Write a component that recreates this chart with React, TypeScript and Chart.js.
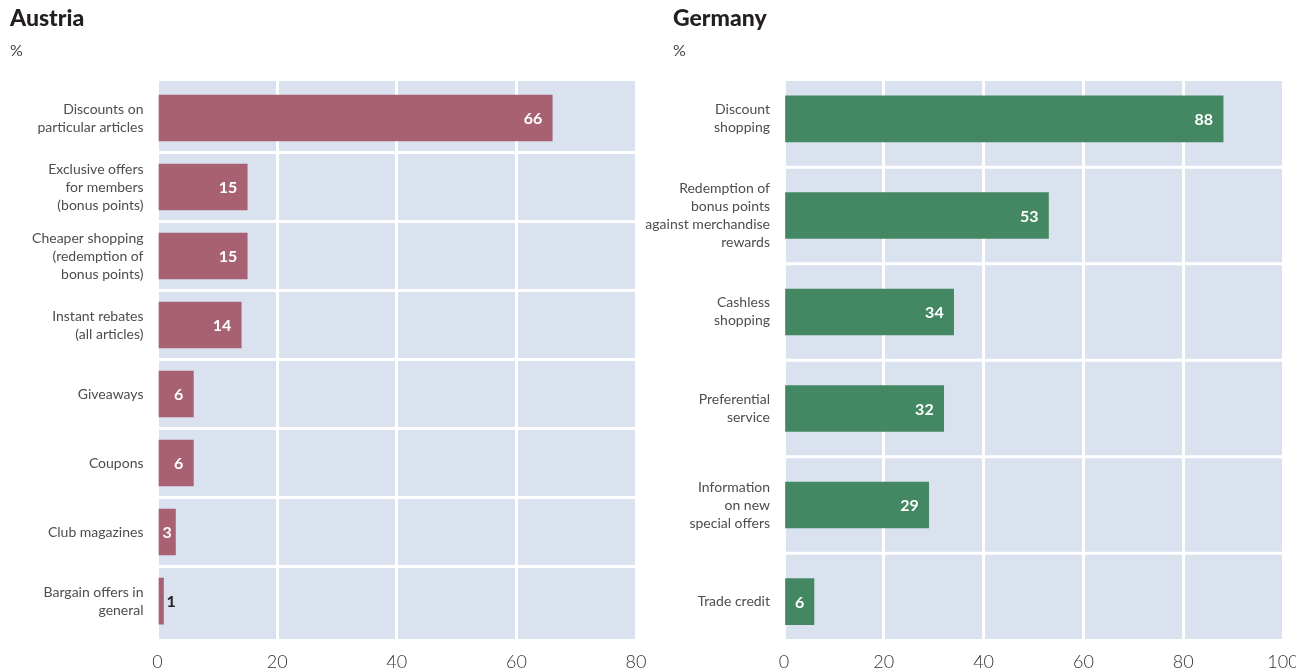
import React, { useEffect, useRef } from "react";
import { Chart, registerables } from "chart.js";

Chart.register(...registerables);

// ---- Data ----
const AT_LABELS: string[][] = [
  ["Discounts on", "particular articles"],
  ["Exclusive offers", "for members", "(bonus points)"],
  ["Cheaper shopping", "(redemption of", "bonus points)"],
  ["Instant rebates", "(all articles)"],
  ["Giveaways"],
  ["Coupons"],
  ["Club magazines"],
  ["Bargain offers in", "general"],
];
const AT_VALUES: number[] = [66, 15, 15, 14, 6, 6, 3, 1];

const DE_LABELS: string[][] = [
  ["Discount", "shopping"],
  ["Redemption of", "bonus points", "against merchandise", "rewards"],
  ["Cashless", "shopping"],
  ["Preferential", "service"],
  ["Information", "on new", "special offers"],
  ["Trade credit"],
];
const DE_VALUES: number[] = [88, 53, 34, 32, 29, 6];

const AT_X_TICKS = { max: 80, step: 20 };
const DE_X_TICKS = { max: 100, step: 20 };

const FONT = "Lato, 'Open Sans', sans-serif";
const BG = "#d9e2ee";

const bgPlugin = {
  id: "bgPlugin",
  beforeDraw(chart: any) {
    const { ctx, chartArea } = chart;
    if (!chartArea) return;
    ctx.save();
    ctx.fillStyle = BG;
    ctx.fillRect(chartArea.left, chartArea.top, chartArea.right - chartArea.left, chartArea.bottom - chartArea.top);
    ctx.restore();
  },
  beforeDatasetsDraw(chart: any) {
    const { ctx, chartArea } = chart;
    const y = chart.scales.y;
    const n = chart.data.datasets[0].data.length;
    ctx.save();
    ctx.strokeStyle = "#ffffff";
    ctx.lineWidth = 3;
    for (let i = 0; i < n - 1; i++) {
      const py = y.getPixelForValue(i + 0.5);
      ctx.beginPath();
      ctx.moveTo(chartArea.left, py);
      ctx.lineTo(chartArea.right, py);
      ctx.stroke();
    }
    ctx.restore();
  },
};

const valuePlugin = {
  id: "valuePlugin",
  afterDatasetsDraw(chart: any) {
    const { ctx } = chart;
    const meta = chart.getDatasetMeta(0);
    const values = chart.data.datasets[0].data;
    ctx.save();
    ctx.font = `bold 16px ${FONT}`;
    ctx.textBaseline = "middle";
    meta.data.forEach((bar: any, i: number) => {
      const v = values[i].x;
      const txt = String(v);
      const tw = ctx.measureText(txt).width;
      const w = Math.abs(bar.x - bar.base);
      const pad = 10;
      if (w >= tw + 2 * pad + 4) {
        ctx.fillStyle = "#ffffff";
        ctx.textAlign = "right";
        ctx.fillText(txt, bar.x - pad, bar.y + 1);
      } else if (w >= tw + 4) {
        ctx.fillStyle = "#ffffff";
        ctx.textAlign = "center";
        ctx.fillText(txt, (bar.x + bar.base) / 2, bar.y + 1);
      } else {
        ctx.fillStyle = "#222222";
        ctx.textAlign = "left";
        ctx.fillText(txt, bar.x + 3, bar.y + 1);
      }
    });
    ctx.restore();
  },
};

type PanelProps = {
  labels: string[][];
  values: number[];
  color: string;
  xMax: number;
  xStep: number;
  yMin: number;
  yMax: number;
  yAxisWidth: number;
  padRight: number;
  width: number;
};

function Panel(props: PanelProps) {
  const ref = useRef<HTMLCanvasElement | null>(null);
  useEffect(() => {
    if (!ref.current) return;
    const { labels, values, color, xMax, xStep, yMin, yMax, yAxisWidth, padRight } = props;
    const chart = new Chart(ref.current, {
      type: "bar",
      data: {
        datasets: [
          {
            data: values.map((v, i) => ({ x: v, y: i })) as any,
            backgroundColor: color,
            borderWidth: 0,
            barThickness: 46,
          },
        ],
      },
      options: {
        indexAxis: "y",
        responsive: false,
        animation: false,
        layout: { autoPadding: false, padding: { top: 81, right: padRight, bottom: 0, left: 0 } } as any,
        plugins: {
          legend: { display: false },
          tooltip: { enabled: false },
          title: { display: false },
        },
        scales: {
          x: {
            type: "linear",
            min: 0,
            max: xMax,
            bounds: "data",
            offset: false,
            border: { display: false },
            grid: { color: "#ffffff", lineWidth: 3, drawTicks: false, offset: false },
            ticks: {
              stepSize: xStep,
              color: "#333333",
              font: { family: FONT, size: 18, weight: 300 as any },
              padding: 12,
            },
            afterFit(scale: any) {
              scale.height = 33;
              scale.paddingLeft = 0;
              scale.paddingRight = 0;
            },
          },
          y: {
            type: "linear",
            reverse: true,
            min: yMin,
            max: yMax,
            bounds: "data",
            offset: false,
            border: { display: false },
            grid: { display: false, drawTicks: false, offset: false },
            afterBuildTicks(scale: any) {
              scale.ticks = labels.map((_, i) => ({ value: i }));
            },
            ticks: {
              autoSkip: false,
              color: "#4d4d4d",
              padding: 14,
              font: { family: FONT, size: 14, lineHeight: "18px" as any },
              callback: (value: any) => labels[Math.round(Number(value))] ?? "",
            },
            afterFit(scale: any) {
              scale.width = yAxisWidth;
              scale.paddingTop = 0;
              scale.paddingBottom = 0;
            },
          },
        },
      },
      plugins: [bgPlugin, valuePlugin],
    });
    return () => chart.destroy();
  }, []);
  return <canvas ref={ref} width={props.width} height={672} style={{ display: "block" }} />;
}

const titleStyle: React.CSSProperties = {
  position: "absolute",
  top: 3,
  fontFamily: FONT,
  fontWeight: 900,
  fontSize: 23,
  color: "#231f20",
  margin: 0,
};
const unitStyle: React.CSSProperties = {
  position: "absolute",
  top: 40,
  fontFamily: FONT,
  fontWeight: 400,
  fontSize: 16,
  color: "#444444",
};

export default function App() {
  return (
    <div style={{ position: "fixed", left: 0, top: 0, width: 1296, height: 672, background: "#ffffff", overflow: "hidden" }}>
      <div style={{ position: "absolute", left: 0, top: 0, width: 648, height: 672 }}>
        <Panel
          labels={AT_LABELS}
          values={AT_VALUES}
          color="#a86172"
          xMax={AT_X_TICKS.max}
          xStep={AT_X_TICKS.step}
          yMin={-0.536}
          yMax={7.55}
          yAxisWidth={157.5}
          padRight={12}
          width={648}
        />
      </div>
      <div style={{ position: "absolute", left: 620, top: 0, width: 676, height: 672 }}>
        <Panel
          labels={DE_LABELS}
          values={DE_VALUES}
          color="#438863"
          xMax={DE_X_TICKS.max}
          xStep={DE_X_TICKS.step}
          yMin={-0.393}
          yMax={5.388}
          yAxisWidth={164}
          padRight={13}
          width={676}
        />
      </div>
      <div style={{ ...titleStyle, left: 10 }}>Austria</div>
      <div style={{ ...unitStyle, left: 10 }}>%</div>
      <div style={{ ...titleStyle, left: 673 }}>Germany</div>
      <div style={{ ...unitStyle, left: 673 }}>%</div>
    </div>
  );
}
